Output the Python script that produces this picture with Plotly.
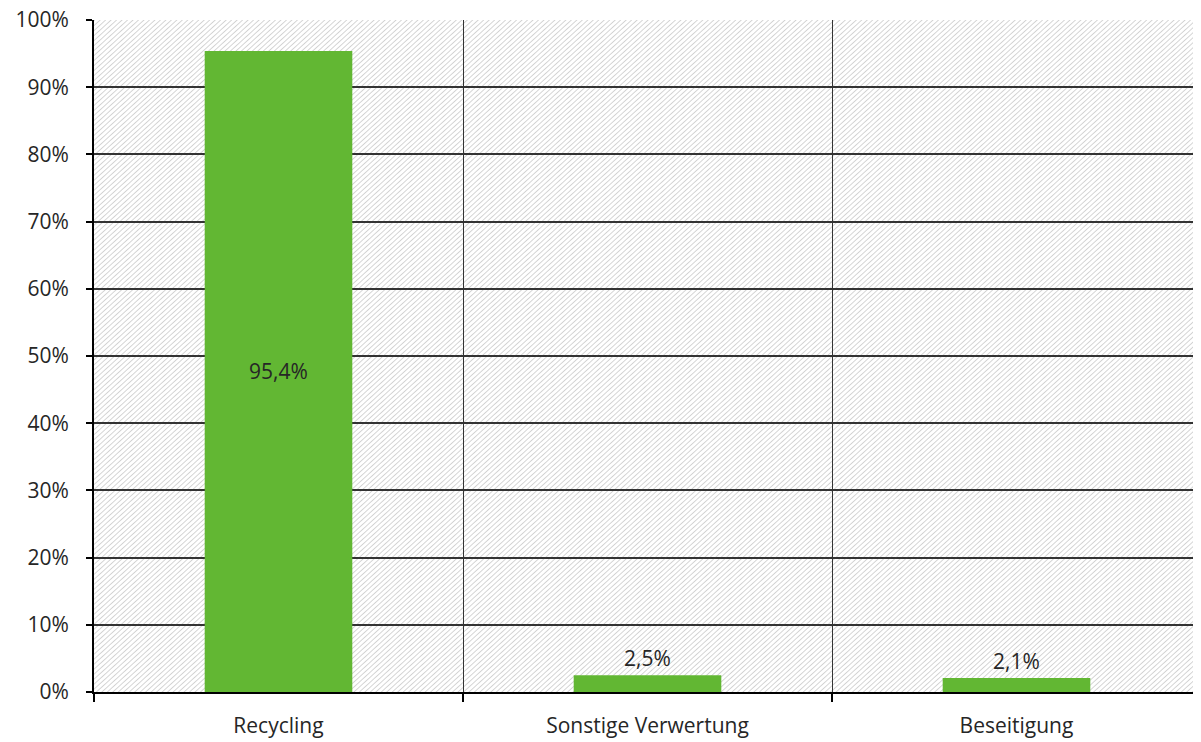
import base64

import plotly.graph_objects as go

categories = ["Recycling", "Sonstige Verwertung", "Beseitigung"]
shares = [95.4, 2.5, 2.1]
label_positions = ["inside", "outside", "outside"]
axis_max = 100


def _hatch_uri(color="#c4c4c4", step=4.2, width=1.6):
    """Diagonal hatch as an inline svg, used as the plot background."""
    svg = (
        '<svg xmlns="http://www.w3.org/2000/svg" width="1200" height="800" '
        'preserveAspectRatio="none">'
        f'<defs><pattern id="h" width="{step}" height="{step}" '
        'patternUnits="userSpaceOnUse" patternTransform="rotate(45)">'
        f'<line x1="0" y1="0" x2="0" y2="{step}" stroke="{color}" '
        f'stroke-width="{width}"/></pattern></defs>'
        '<rect width="100%" height="100%" fill="url(#h)"/></svg>'
    )
    return "data:image/svg+xml;base64," + base64.b64encode(svg.encode()).decode()


fig = go.Figure()

fig.add_trace(
    go.Bar(
        x=categories,
        y=shares,
        width=0.4,
        marker=dict(color="#62b733", line=dict(width=0)),
        texttemplate="%{y:.1f}%",
        textposition=label_positions,
        insidetextanchor="middle",
        textfont=dict(color="#262626", size=21),
        cliponaxis=False,
        showlegend=False,
    )
)

fig.add_layout_image(
    source=_hatch_uri(),
    xref="paper",
    yref="paper",
    x=0,
    y=1,
    sizex=1,
    sizey=1,
    sizing="stretch",
    xanchor="left",
    yanchor="top",
    layer="below",
)

# the page body adds an 8px offset, so the figure is 8px smaller
fig.update_layout(
    width=1193,
    height=734,
    margin=dict(l=86, r=0, t=12, b=50),
    paper_bgcolor="white",
    plot_bgcolor="rgba(0,0,0,0)",
    separators=",.",
    font=dict(family="Open Sans, sans-serif", size=21, color="#262626"),
)

fig.update_xaxes(
    type="category",
    tickson="boundaries",
    ticks="outside",
    ticklen=8,
    tickwidth=2,
    tickcolor="black",
    showgrid=True,
    gridcolor="#333333",
    gridwidth=1,
    showline=True,
    linecolor="black",
    linewidth=2,
    ticklabelstandoff=14,
    automargin=False,
)

fig.update_yaxes(
    range=[0, axis_max],
    dtick=10,
    ticksuffix="%",
    ticks="outside",
    ticklen=6,
    tickwidth=2,
    tickcolor="black",
    showgrid=True,
    gridcolor="#333333",
    gridwidth=1.5,
    zeroline=False,
    showline=True,
    linecolor="black",
    linewidth=2,
    ticklabelstandoff=13,
    ticklabeloverflow="allow",
    automargin=False,
)

fig.write_html("out.html")
